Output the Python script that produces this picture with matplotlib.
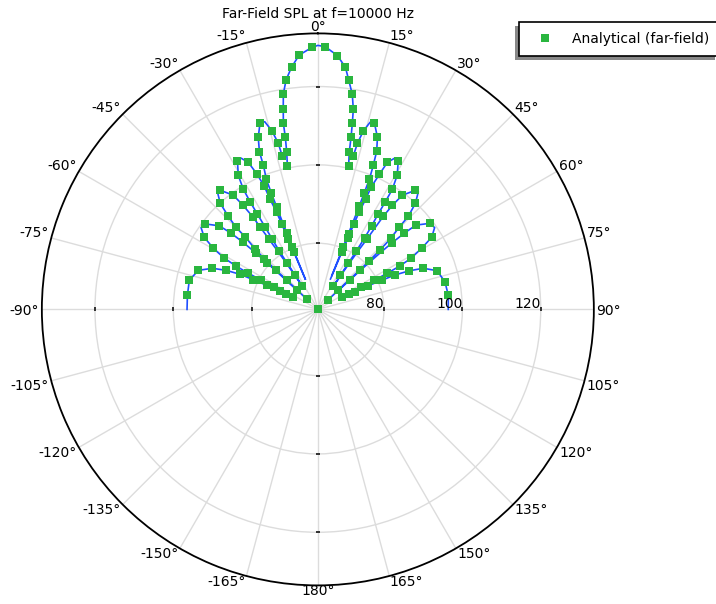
import numpy as np
import matplotlib
matplotlib.use("Agg")
import matplotlib.pyplot as plt
from matplotlib.patches import Rectangle
from matplotlib.transforms import IdentityTransform, offset_copy

# ---------------- text / axes data ----------------
title = "Far-Field SPL at f=10000 Hz"
legend_label = "Analytical (far-field)"
r_ticks = [80, 100, 120]
r_limits = (63.11, 133.56)
theta_tick_deg = list(range(0, 360, 15))
theta_tick_labels = [f"{a if a <= 180 else a - 360}\u00b0" for a in theta_tick_deg]

# ---------------- marker series (angle in deg, SPL in dB) ----------------
marker_theta = [
    # left half
    -83.8, -77.2, -71.9, -68.7, -66.9, -65.7, -65.3, -64.7, -64.3, -64.0,
    -63.4, -63.2, -62.8, -62.5, -62.1, -61.3, -59.7, -57.55, -52.85, -49.7,
    -48.7, -48.1, -47.7, -47.5,
    -47.15, -47.1, -47.0, -46.9, -46.6, -46.1, -45.1, -44.9, -43.9, -42.6,
    -39.3, -36.5, -35.7, -35.1, -35.0, -34.9,
    -33.65, -33.6, -33.55, -33.45, -33.0, -32.7, -32.4, -32.2, -31.8, -30.7,
    -28.5, -25.3, -24.2, -23.5, -23.45, -23.0, -22.9, -22.8, -22.7,
    -22.4, -22.2, -21.9, -21.8, -21.6, -20.7, -20.35, -19.1, -17.2, -14.4,
    -13.4, -13.05,
    -12.0, -11.2, -10.7, -10.5, -9.8, -9.1, -7.9, -6.2, -4.2, -1.3,
    # centre point
    0.0,
    # right half
    1.6, 4.4, 6.5, 7.7, 9.1, 10.05, 10.5, 10.9, 11.3, 12.1,
    13.0, 13.4, 14.3, 16.9, 19.1, 20.4, 21.05, 21.6, 21.7, 21.85, 22.05, 22.15,
    22.7, 22.8, 22.9, 23.0, 23.45, 23.55, 24.5, 25.3, 28.5, 30.6, 31.8, 32.1,
    32.3, 32.8, 33.2, 33.4, 33.5, 33.55, 33.6,
    34.9, 35.1, 35.6, 36.5, 39.3, 42.6, 44.2, 44.7, 45.8, 46.3, 46.6, 46.8,
    46.9, 47.0, 47.1,
    48.1, 48.6, 49.3, 52.5, 57.65, 59.5, 61.25, 62.1, 62.5, 62.7, 62.95, 63.15,
    63.7, 64.3, 64.8, 65.5, 65.95, 67.1, 68.7, 72.0, 77.7, 83.7,
]
marker_spl = [
    96.6, 96.75, 95.2, 92.0, 88.5, 84.8, 81.3, 77.4, 73.7, 70.1,
    72.1, 75.7, 79.3, 83.1, 86.7, 90.3, 94.0, 97.5, 99.25, 96.1,
    92.6, 88.7, 84.4, 80.7,
    66.85, 70.3, 74.0, 77.85, 82.0, 85.3, 89.2, 92.7, 96.1, 99.9,
    102.4, 99.35, 95.8, 92.0, 88.7, 85.0,
    70.2, 73.6, 77.2, 80.9, 84.5, 88.0, 92.0, 95.4, 99.2, 102.9,
    106.1, 104.6, 100.9, 97.4, 93.7, 90.1, 86.8, 82.55, 78.9,
    80.4, 84.1, 91.4, 95.0, 98.8, 102.4, 106.0, 109.6, 113.0, 110.1,
    106.7, 103.2,
    100.5, 104.0, 107.8, 111.4, 115.0, 118.8, 122.2, 125.3, 128.2, 130.0,
    63.11,
    130.2, 128.1, 125.3, 122.1, 118.7, 115.0, 111.4, 108.0, 104.0, 100.6,
    103.2, 106.7, 110.1, 112.8, 109.6, 106.2, 102.5, 98.8, 95.0, 91.5, 84.0, 80.4,
    78.9, 82.8, 86.8, 90.2, 93.75, 97.2, 101.0, 104.6, 106.1, 102.9, 99.2, 95.5,
    91.85, 88.5, 84.9, 80.95, 77.2, 73.5, 70.25,
    84.9, 92.15, 95.8, 99.35, 102.4, 99.9, 96.2, 92.6, 89.1, 85.0, 81.0, 77.7,
    74.2, 70.3, 66.8,
    88.6, 92.5, 96.1, 99.2, 97.5, 93.9, 90.2, 86.8, 83.1, 79.3, 75.6, 71.9,
    70.1, 73.6, 77.3, 81.0, 84.7, 88.45, 92.0, 95.1, 96.3, 96.6,
]

# extra points read on the blue curve (ends, lobe tops, descents into nulls)
curve_theta = [
    -90.0, -47.4, -47.33, -47.27, -40.5, -34.6, -34.3, -34.1, -33.95, -27.0,
    -22.62, -22.56, -22.46, -22.43, -15.8, 0.0, 15.6, 22.3, 22.42, 22.56,
    22.62, 27.0, 33.95, 34.1, 34.3, 34.6, 35.0, 40.5, 47.27, 47.35, 47.45,
    47.6, 47.8, -55.0, 55.0, 90.0,
]
curve_spl = [
    96.5, 77.0, 73.5, 70.0, 102.6, 81.5, 78.0, 74.5, 71.0, 106.5,
    75.0, 71.5, 71.5, 75.5, 112.9, 130.5, 112.7, 76.5, 72.5, 71.5,
    75.0, 106.5, 71.0, 74.5, 78.0, 81.5, 88.5, 102.6, 70.0, 73.5, 77.0,
    81.0, 85.0, 99.5, 99.5, 96.4,
]
# angles where the pattern falls below the plotted range (line breaks)
null_theta = [-63.7, -47.2, -33.8, -22.5, -12.6, 12.6, 22.5, 33.8, 47.2, 63.45]

BLUE = "#1f4fff"
GREEN = "#2ab63f"

# ---------------- build the curve ----------------
mk_th = np.array(marker_theta)
mk_sp = np.array(marker_spl)
keep = mk_sp > r_limits[0] + 0.01
line_th = np.concatenate([mk_th[keep], curve_theta, null_theta])
line_sp = np.concatenate([mk_sp[keep], curve_spl, np.full(len(null_theta), np.nan)])
order = np.argsort(line_th, kind="stable")
line_th = line_th[order]
line_sp = line_sp[order]

# ---------------- figure ----------------
W, H = 716, 604
fig = plt.figure(figsize=(W / 100, H / 100), dpi=100)
cx, cy, R = 317.85, 309.4, 276.0
ax = fig.add_axes([(cx - R) / W, (H - cy - R) / H, 2 * R / W, 2 * R / H],
                  projection="polar")
ax.set_theta_zero_location("N")
ax.set_theta_direction(-1)
ax.set_rlim(*r_limits)

ax.plot(np.deg2rad(line_th), line_sp, color=BLUE, lw=1.2, zorder=3)
mk_handle, = ax.plot(np.deg2rad(mk_th), mk_sp, ls="none", marker="s", ms=6,
                     mfc=GREEN, mec=GREEN, mew=0, zorder=4, label=legend_label)

ax.set_rgrids(r_ticks, labels=[""] * len(r_ticks))
ax.set_thetagrids(theta_tick_deg, [""] * len(theta_tick_deg))
ax.grid(True, color="#dcdcdc", lw=1.0)
ax.spines["polar"].set_linewidth(1.3)
ax.spines["polar"].set_color("black")
ax.set_rlim(*r_limits)

# small radial tick marks on the four cardinal directions
for ang in (0, 90, 180, 270):
    mk = "_" if ang in (0, 180) else "|"
    ax.plot(np.deg2rad([ang] * len(r_ticks)), r_ticks, ls="none", marker=mk,
            ms=3.5, mew=1.3, color="#222222", zorder=2.5, clip_on=False)

# radial labels: right-aligned on each ring, just above the 90 deg line
r_tr = offset_copy(ax.transData, fig=fig, x=0.0, y=1.0, units="points")
for v in r_ticks:
    ax.text(np.deg2rad(90), v, str(v), transform=r_tr, ha="right",
            va="baseline", fontsize=10, zorder=5)

# angular labels placed just outside the outer ring
pad_pt = 1.8
for a, lab in zip(theta_tick_deg, theta_tick_labels):
    s, c = np.sin(np.deg2rad(a)), np.cos(np.deg2rad(a))
    ha = "left" if s > 0.01 else ("right" if s < -0.01 else "center")
    if c > 0.01:
        va, dy = "baseline", pad_pt * c
    elif c < -0.01:
        va, dy = "top", 1.0
    else:
        va, dy = "center_baseline", 0.0
    tr = offset_copy(ax.transData, fig=fig, x=pad_pt * s, y=dy, units="points")
    ax.text(np.deg2rad(a), r_limits[1], lab, transform=tr, ha=ha, va=va,
            fontsize=10, clip_on=False)

fig.text(cx / W, 1 - 14 / H, title, ha="center", va="center", fontsize=10)

leg = fig.legend(handles=[mk_handle], labels=[legend_label], loc="upper left",
                 bbox_to_anchor=(519 / W, 1 - 21.7 / H),
                 bbox_transform=fig.transFigure, frameon=True, fancybox=False,
                 edgecolor="black", framealpha=1, borderpad=0.72,
                 borderaxespad=0, fontsize=10, handlelength=2.3)
leg.get_frame().set_linewidth(1.2)
leg.set_zorder(6)

fig.canvas.draw()
bb = leg.get_frame().get_window_extent()
shadow = Rectangle((bb.x0 - 4, bb.y0 - 4), bb.width, bb.height,
                   transform=IdentityTransform(), facecolor="#888888",
                   edgecolor="none", zorder=5)
fig.add_artist(shadow)

fig.savefig("out.png", dpi=100)
